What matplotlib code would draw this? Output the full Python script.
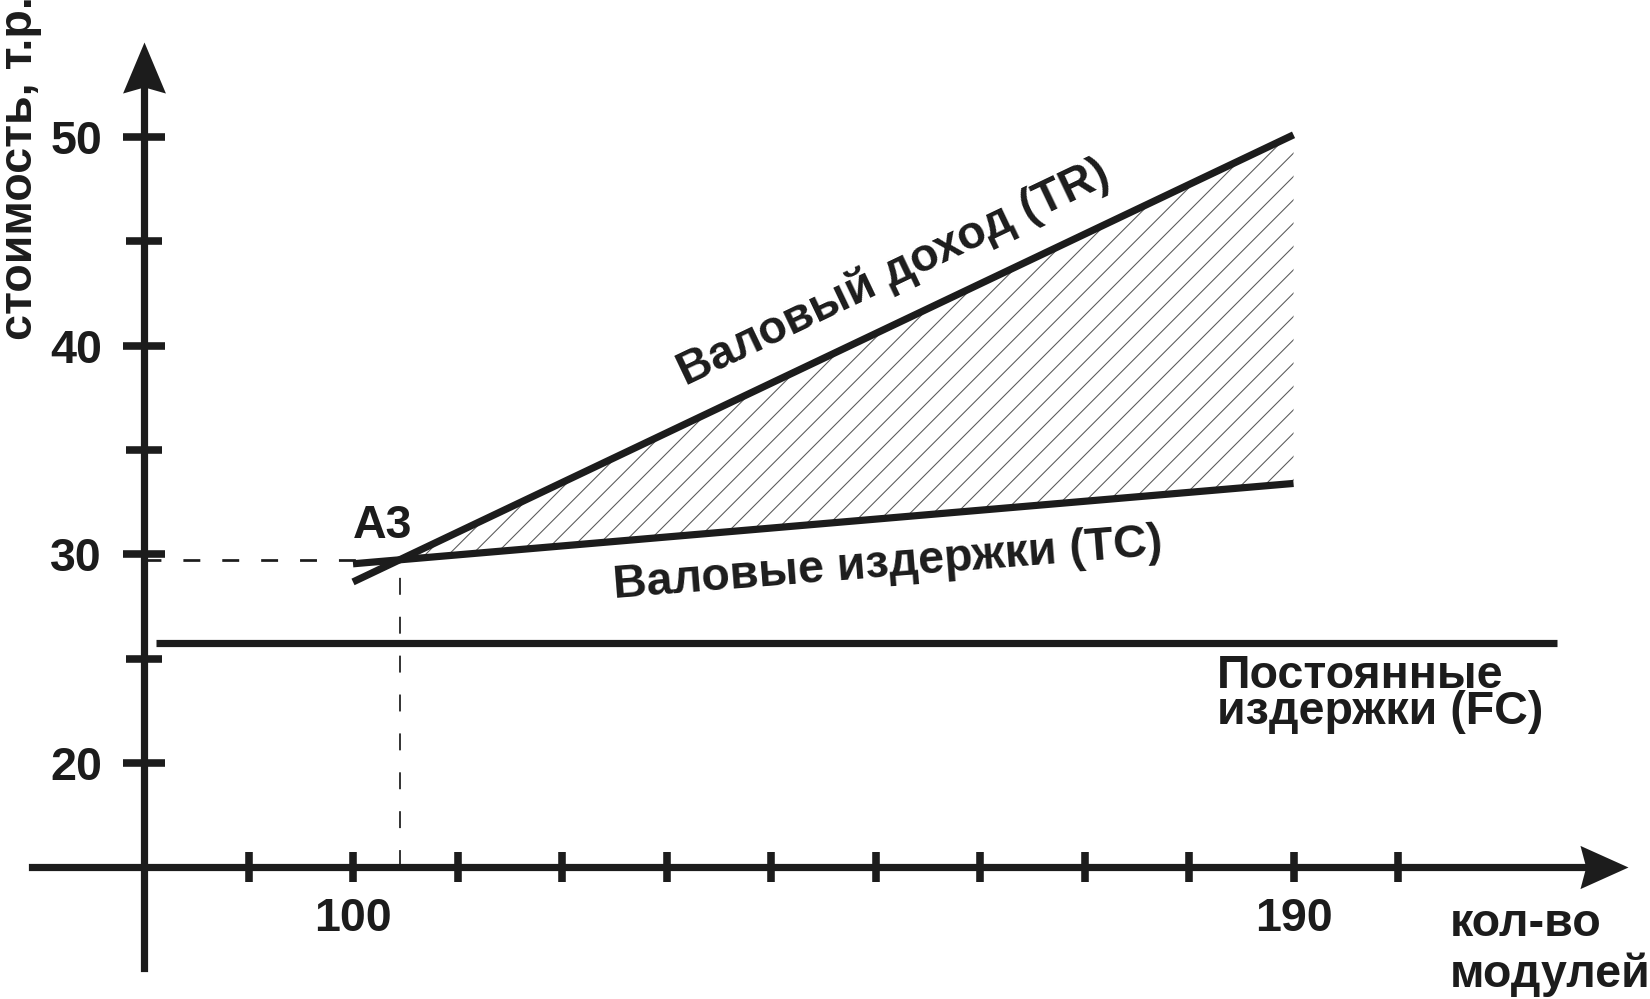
import numpy as np
import matplotlib
matplotlib.use('Agg')
import matplotlib.pyplot as plt
from matplotlib.path import Path

plt.rcParams['font.family'] = ['Liberation Sans', 'DejaVu Sans']
plt.rcParams['font.weight'] = 'bold'
plt.rcParams['lines.scale_dashes'] = False
plt.rcParams['hatch.linewidth'] = 0.55

# ---------------- data ----------------
q_points = [100, 190]            # кол-во модулей
revenue_tr = [28.68, 50.1]       # валовый доход (TR)
cost_tc = [29.55, 33.4]          # валовые издержки (TC)
fixed_fc = 25.75                 # постоянные издержки (FC)
fc_range = [81.1, 215.2]
breakeven_q = 104.5              # точка А3
breakeven_cost = 29.75
origin_q = 80
origin_cost = 15
x_axis_range = [69.3, 222.0]
y_axis_range = [10.2, 54.55]
x_ticks = list(range(90, 201, 10))
x_ticklabels = ['', '100', '', '', '', '', '', '', '', '', '190', '']
y_major = [20, 30, 40, 50]
y_major_labels = ['20', '30', '40', '50']
y_minor = [25, 35, 45]

INK = '#1c1c1c'
DPI = 140
W, H = 1650, 999
FS = 24

fig = plt.figure(figsize=(W / DPI, H / DPI), dpi=DPI)
ax = fig.add_axes([0, 0, 1, 1])
ax.set_xlim(66.22, 224.11)
ax.set_ylim(8.70, 56.56)

for s in ['top', 'right']:
    ax.spines[s].set_visible(False)
ax.spines['left'].set_position(('data', origin_q))
ax.spines['bottom'].set_position(('data', origin_cost))
ax.spines['left'].set_bounds(y_axis_range[0], y_axis_range[1] - 1.5)
ax.spines['bottom'].set_bounds(x_axis_range[0], x_axis_range[1] - 3.0)
for s in ['left', 'bottom']:
    ax.spines[s].set_linewidth(3.7)
    ax.spines[s].set_color(INK)

ax.set_xticks(x_ticks, x_ticklabels)
ax.set_yticks(y_major, y_major_labels)
ax.set_yticks(y_minor, minor=True)
ax.tick_params(axis='x', which='major', direction='inout', length=15.4, width=3.9,
               pad=7.5, labelsize=FS, colors=INK)
ax.tick_params(axis='y', which='major', direction='inout', length=21.6, width=3.9,
               pad=10.8, labelsize=FS, colors=INK)
ax.tick_params(axis='y', which='minor', direction='inout', length=18.5, width=3.9, colors=INK)
ax.tick_params(axis='x', which='minor', bottom=False)

# arrow heads
arrow_up = Path([(0, 0), (-0.42, -1), (0, -0.88), (0.42, -1), (0, 0)],
                [Path.MOVETO, Path.LINETO, Path.LINETO, Path.LINETO, Path.CLOSEPOLY])
arrow_right = Path([(0, 0), (-1, 0.45), (-0.88, 0), (-1, -0.45), (0, 0)],
                   [Path.MOVETO, Path.LINETO, Path.LINETO, Path.LINETO, Path.CLOSEPOLY])
ax.plot([origin_q], [y_axis_range[1]], marker=arrow_up, markersize=52.5, color=INK,
        markeredgewidth=0, clip_on=False, zorder=5)
ax.plot([x_axis_range[1]], [origin_cost], marker=arrow_right, markersize=49.4, color=INK,
        markeredgewidth=0, clip_on=False, zorder=5)

# hatched profit area
xs = [breakeven_q, q_points[1]]
ax.fill_between(xs, np.interp(xs, q_points, cost_tc), np.interp(xs, q_points, revenue_tr),
                facecolor='none', edgecolor='#5a5a5a', hatch='//', linewidth=0, zorder=1)

# dashed guides
ax.plot([origin_q, breakeven_q], [breakeven_cost, breakeven_cost], ls=(0, (8.7, 11.3)),
        lw=1.4, color=INK, zorder=2)
ax.plot([breakeven_q, breakeven_q], [origin_cost, breakeven_cost], ls=(0, (8.7, 11.3)),
        lw=0.9, color=INK, zorder=2)

# main lines
ax.plot(q_points, revenue_tr, lw=3.7, color=INK, solid_capstyle='butt', zorder=3)
ax.plot(q_points, cost_tc, lw=3.7, color=INK, solid_capstyle='butt', zorder=3)
ax.plot(fc_range, [fixed_fc, fixed_fc], lw=3.7, color=INK, solid_capstyle='butt', zorder=3)


def P(x, y):
    return (x / W, 1 - y / H)


tkw = dict(transform=ax.transAxes, fontsize=FS, color=INK, fontweight='bold')
ax.text(*P(899, 284), 'Валовый доход (TR)', rotation=25.5, rotation_mode='anchor',
        ha='center', va='baseline', **tkw)
ax.text(*P(889, 576), 'Валовые издержки (TC)', rotation=4.5, rotation_mode='anchor',
        ha='center', va='baseline', **tkw)
ax.text(*P(1217, 654), 'Постоянные\nиздержки (FC)', ha='left', va='top',
        linespacing=0.76, **tkw)
ax.text(*P(1450, 902), 'кол-во\nмодулей', ha='left', va='top', linespacing=1.2, **tkw)
ax.text(*P(20, 340), 'стоимость, т.р.', rotation=90, ha='center', va='bottom', **tkw)
ax.text(*P(353, 538), 'А3', ha='left', va='baseline', **tkw)

fig.savefig('out.png', dpi=DPI, facecolor='white')
